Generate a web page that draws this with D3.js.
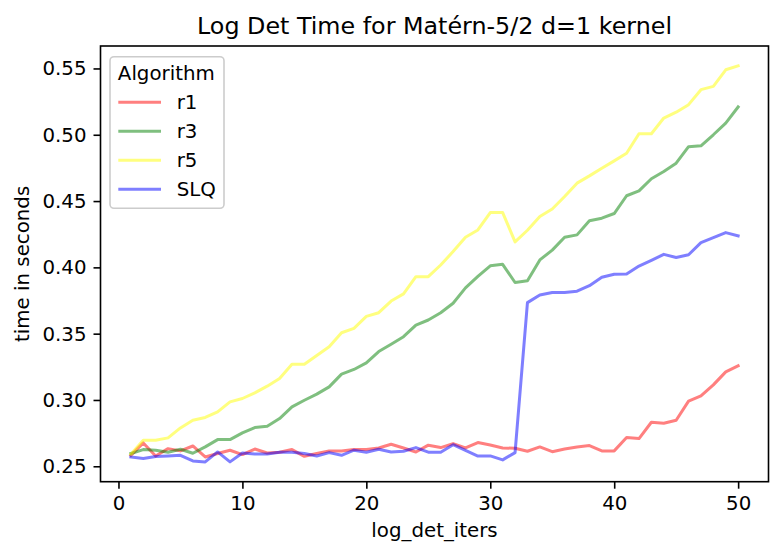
<!DOCTYPE html>
<html>
<head>
<meta charset="utf-8">
<script src="https://cdn.jsdelivr.net/npm/d3@7"></script>
<style>
  body { margin: 0; background: white; }
  svg { font-family: "DejaVu Sans", sans-serif; }
</style>
</head>
<body>
<svg id="chart"></svg>
<script>
let iters = [1, 2, 3, 4, 5, 6, 7, 8, 9, 10, 11, 12, 13, 14, 15, 16, 17, 18, 19, 20,
             21, 22, 23, 24, 25, 26, 27, 28, 29, 30, 31, 32, 33, 34, 35, 36, 37, 38, 39, 40,
             41, 42, 43, 44, 45, 46, 47, 48, 49, 50];

let r1 = [0.2583, 0.2676, 0.2578, 0.2633, 0.2616, 0.2653, 0.2570, 0.2596, 0.2621, 0.2588,
          0.2630, 0.2600, 0.2606, 0.2626, 0.2575, 0.2596, 0.2616, 0.2616, 0.2626, 0.2626,
          0.2638, 0.2666, 0.2638, 0.2608, 0.2659, 0.2641, 0.2671, 0.2638, 0.2679, 0.2661,
          0.2638, 0.2636, 0.2613, 0.2646, 0.2610, 0.2630, 0.2646, 0.2656, 0.2616, 0.2616,
          0.2717, 0.2709, 0.2832, 0.2825, 0.2847, 0.2991, 0.3031, 0.3114, 0.3212, 0.3258];

let r3 = [0.2596, 0.2626, 0.2621, 0.2606, 0.2628, 0.2598, 0.2646, 0.2701, 0.2701, 0.2752,
          0.2792, 0.2802, 0.2860, 0.2948, 0.2998, 0.3044, 0.3099, 0.3195, 0.3230, 0.3280,
          0.3365, 0.3420, 0.3477, 0.3565, 0.3603, 0.3658, 0.3729, 0.3845, 0.3932, 0.4012,
          0.4023, 0.3886, 0.3899, 0.4056, 0.4130, 0.4227, 0.4245, 0.4352, 0.4371, 0.4406,
          0.4540, 0.4577, 0.4668, 0.4723, 0.4786, 0.4910, 0.4917, 0.5000, 0.5088, 0.5210];

let r5 = [0.2590, 0.2696, 0.2696, 0.2714, 0.2789, 0.2847, 0.2868, 0.2910, 0.2986, 0.3011,
          0.3054, 0.3104, 0.3162, 0.3270, 0.3270, 0.3336, 0.3401, 0.3507, 0.3540, 0.3630,
          0.3658, 0.3746, 0.3800, 0.3930, 0.3930, 0.4018, 0.4119, 0.4227, 0.4282, 0.4413,
          0.4413, 0.4192, 0.4280, 0.4383, 0.4440, 0.4534, 0.4635, 0.4690, 0.4748, 0.4803,
          0.4860, 0.5008, 0.5008, 0.5126, 0.5170, 0.5227, 0.5340, 0.5365, 0.5490, 0.5520];

let slq = [0.2570, 0.2558, 0.2573, 0.2578, 0.2583, 0.2540, 0.2533, 0.2608, 0.2533, 0.2600,
           0.2593, 0.2593, 0.2606, 0.2606, 0.2596, 0.2578, 0.2603, 0.2583, 0.2621, 0.2606,
           0.2628, 0.2608, 0.2613, 0.2641, 0.2606, 0.2606, 0.2663, 0.2620, 0.2577, 0.2578,
           0.2548, 0.2603, 0.3734, 0.3792, 0.3810, 0.3810, 0.3820, 0.3862, 0.3925, 0.3948,
           0.3950, 0.4010, 0.4053, 0.4098, 0.4075, 0.4095, 0.4187, 0.4224, 0.4262, 0.4238];

let seriesNames = ["r1", "r3", "r5", "SLQ"];
let seriesColors = ["red", "green", "yellow", "blue"];
let seriesValues = [r1, r3, r5, slq];

let xTicks = [0, 10, 20, 30, 40, 50];
let yTicks = [0.25, 0.30, 0.35, 0.40, 0.45, 0.50, 0.55];

let size = {width: 783, height: 557};
let frame = {left: 100.5, right: 768.5, top: 46, bottom: 481.7};
let fs = 19.8;

let svg = d3.select("#chart")
  .attr("width", size.width)
  .attr("height", size.height);

// matplotlib style 5% margins round the data
let xExt = d3.extent(iters);
let xPad = (xExt[1] - xExt[0]) * 0.05;
let x = d3.scaleLinear()
  .domain([xExt[0] - xPad, xExt[1] + xPad])
  .range([frame.left, frame.right]);

let yExt = d3.extent(seriesValues.flat());
let yPad = (yExt[1] - yExt[0]) * 0.05;
let y = d3.scaleLinear()
  .domain([yExt[0] - yPad, yExt[1] + yPad])
  .range([frame.bottom, frame.top]);

// lines
let line = d3.line()
  .x((d, i) => x(iters[i]))
  .y(d => y(d));

svg.append("g")
  .attr("id", "lines")
  .selectAll("path")
  .data(seriesValues)
  .enter().append("path")
  .attr("fill", "none")
  .attr("stroke", (d, i) => seriesColors[i])
  .attr("stroke-opacity", 0.5)
  .attr("stroke-width", 3)
  .attr("stroke-linejoin", "round")
  .attr("stroke-linecap", "square")
  .attr("d", line);

// axes
let xAxis = svg.append("g")
  .attr("transform", `translate(0,${frame.bottom})`)
  .call(d3.axisBottom(x).tickValues(xTicks).tickFormat(d3.format("d")).tickSize(7).tickPadding(7));

let yAxis = svg.append("g")
  .attr("transform", `translate(${frame.left},0)`)
  .call(d3.axisLeft(y).tickValues(yTicks).tickFormat(d3.format(".2f")).tickSize(7).tickPadding(7));

[xAxis, yAxis].forEach(a => {
  a.select(".domain").remove();
  a.attr("font-family", null).attr("font-size", fs);
  a.selectAll(".tick line").attr("stroke", "black").attr("stroke-width", 1.6);
  a.selectAll(".tick text").attr("fill", "black");
});

// frame
svg.append("rect")
  .attr("x", frame.left)
  .attr("y", frame.top)
  .attr("width", frame.right - frame.left)
  .attr("height", frame.bottom - frame.top)
  .attr("fill", "none")
  .attr("stroke", "black")
  .attr("stroke-width", 1.6);

// title and labels
svg.append("text")
  .attr("x", (frame.left + frame.right) / 2)
  .attr("y", 34)
  .attr("text-anchor", "middle")
  .attr("font-size", 23.8)
  .text("Log Det Time for Matérn-5/2 d=1 kernel");

svg.append("text")
  .attr("x", (frame.left + frame.right) / 2)
  .attr("y", 537)
  .attr("text-anchor", "middle")
  .attr("font-size", fs)
  .text("log_det_iters");

svg.append("text")
  .attr("transform", `translate(29,${(frame.top + frame.bottom) / 2}) rotate(-90)`)
  .attr("text-anchor", "middle")
  .attr("font-size", fs)
  .text("time in seconds");

// legend
let legend = svg.append("g").attr("id", "legend");

legend.append("rect")
  .attr("x", 110)
  .attr("y", 56.7)
  .attr("width", 114)
  .attr("height", 151.6)
  .attr("rx", 4)
  .attr("fill", "white")
  .attr("fill-opacity", 0.8)
  .attr("stroke", "#cccccc")
  .attr("stroke-width", 1.6);

legend.append("text")
  .attr("x", 166.3)
  .attr("y", 79.5)
  .attr("text-anchor", "middle")
  .attr("font-size", fs)
  .text("Algorithm");

let entry = legend.selectAll("g.entry")
  .data(seriesNames)
  .enter().append("g")
  .attr("class", "entry")
  .attr("transform", (d, i) => `translate(0,${102.3 + i * 29})`);

entry.append("line")
  .attr("x1", 118.3)
  .attr("x2", 161)
  .attr("stroke", (d, i) => seriesColors[i])
  .attr("stroke-opacity", 0.5)
  .attr("stroke-width", 3);

entry.append("text")
  .attr("x", 176.7)
  .attr("dy", "0.35em")
  .attr("font-size", fs)
  .text(d => d);
</script>
</body>
</html>
